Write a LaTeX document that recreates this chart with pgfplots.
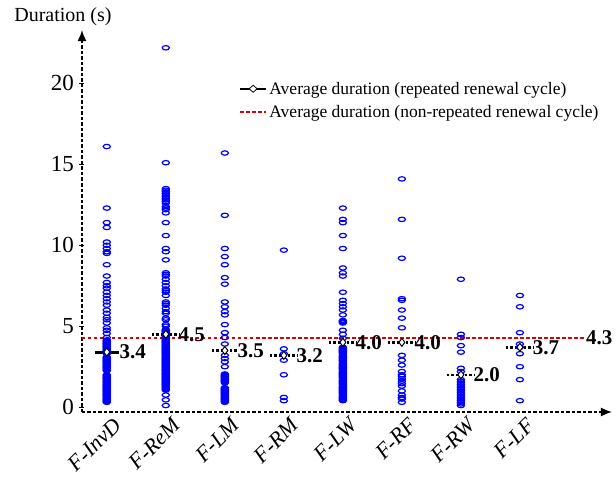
\documentclass[border=0pt]{standalone}
\usepackage{fontspec}
\setmainfont{Liberation Serif}
\usepackage{pgfplots}
\pgfplotsset{compat=1.18}
\usetikzlibrary{arrows.meta}
\definecolor{avgred}{RGB}{220,0,0}
\pgfdeclareplotmark{ell}{\pgfpathellipse{\pgfpointorigin}{\pgfqpoint{3.6pt}{0pt}}{\pgfqpoint{0pt}{2.2pt}}\pgfusepathqstroke}
\begin{document}
\begin{tikzpicture}
\useasboundingbox (-82pt,-76pt) rectangle (534pt,412pt);
\begin{axis}[
  at={(0pt,0pt)}, anchor=south west,
  scale only axis, width=530pt, height=382pt,
  xmin=-0.42, xmax=8.56, ymin=-0.3, ymax=23.3,
  axis lines=left, clip=false,
  axis line style={black, line width=1.6pt, dash pattern=on 3.5pt off 2pt, -{Latex[length=11pt,width=9pt]}},
  xtick={0,1,2,3,4,5,6,7},
  xticklabels={F-InvD,F-ReM,F-LM,F-RM,F-LW,F-RF,F-RW,F-LF},
  ytick={0,5,10,15,20},
  xtick style={draw=none},
  ytick style={black, line width=1pt, solid},
  major tick length=5pt, tick align=center,
  /pgf/number format/assume math mode=true,
  yticklabel style={font=\fontsize{23}{25}\selectfont, xshift=-2pt},
  xticklabel style={rotate=45, anchor=north east, font=\fontsize{22}{24}\selectfont\itshape, xshift=6pt, yshift=-2pt},
  legend style={at={(rel axis cs:0.29,0.875)}, anchor=north west, draw=none, fill=none,
    font=\fontsize{17.5}{19}\selectfont, row sep=6pt},
  legend cell align=left,
]
\node[anchor=south, font=\fontsize{20}{22}\selectfont] at (rel axis cs:0,1) [xshift=-19pt, yshift=1pt] {Duration (s)};

\addlegendimage{legend image code/.code={
  \draw[black, line width=2.5pt] (0pt,0pt) -- (26pt,0pt);
  \draw[black, fill=white, line width=0.8pt] (9pt,0pt) -- (13pt,3.5pt) -- (17pt,0pt) -- (13pt,-3.5pt) -- cycle;}}
\addlegendentry{Average duration (repeated renewal cycle)}
\addlegendimage{legend image code/.code={
  \draw[draw=avgred, line width=2pt, dash pattern=on 3.5pt off 2.5pt] (0pt,0pt) -- (26pt,0pt);}}
\addlegendentry{Average duration (non-repeated renewal cycle)}

% individual durations
\addplot[only marks, mark=ell, blue, mark options={line width=1.2pt, solid}, forget plot]
table[row sep=\\] {
x y\\
0 16.1\\ 0 12.3\\ 0 11.4\\ 0 11.1\\ 0 10.2\\ 0 10.0\\ 0 9.8\\ 0 9.6\\ 0 9.5\\ 0 8.8\\ 0 8.1\\ 0 7.7\\ 0 7.5\\ 0 7.35\\
0 7.1\\ 0 6.9\\ 0 6.7\\ 0 6.5\\ 0 6.3\\ 0 6.0\\ 0 5.8\\ 0 5.55\\ 0 5.4\\ 0 5.2\\ 0 4.9\\ 0 4.75\\ 0 4.55\\ 0 4.3\\
0 4.15\\ 0 4.1\\ 0 4.05\\ 0 4.0\\ 0 3.95\\ 0 3.9\\ 0 3.85\\ 0 3.8\\ 0 3.75\\ 0 3.7\\ 0 3.65\\ 0 3.6\\ 0 3.55\\ 0 3.5\\
0 3.45\\ 0 3.4\\ 0 3.35\\ 0 3.3\\ 0 3.1\\ 0 3.05\\ 0 3.0\\ 0 2.95\\ 0 2.9\\ 0 2.85\\ 0 2.8\\ 0 2.75\\ 0 2.7\\ 0 2.65\\
0 2.6\\ 0 2.55\\ 0 2.5\\ 0 2.45\\ 0 2.4\\ 0 2.35\\ 0 2.3\\ 0 2.25\\ 0 2.0\\ 0 1.95\\ 0 1.9\\ 0 1.85\\ 0 1.8\\ 0 1.75\\
0 1.7\\ 0 1.65\\ 0 1.6\\ 0 1.55\\ 0 1.5\\ 0 1.45\\ 0 1.4\\ 0 1.35\\ 0 1.3\\ 0 1.25\\ 0 1.2\\ 0 1.15\\ 0 1.1\\ 0 1.05\\
0 1.0\\ 0 0.95\\ 0 0.9\\ 0 0.85\\ 0 0.8\\ 0 0.75\\ 0 0.7\\ 0 0.65\\ 0 0.6\\ 0 0.55\\ 0 0.5\\ 0 0.45\\ 0 0.4\\ 0 0.35\\ 0 0.3\\
1 22.2\\ 1 15.1\\ 1 13.5\\ 1 13.4\\ 1 13.3\\ 1 13.2\\ 1 13.1\\ 1 13.0\\ 1 12.9\\ 1 12.8\\ 1 12.7\\ 1 12.6\\ 1 12.4\\ 1 12.3\\
1 12.2\\ 1 12.0\\ 1 11.4\\ 1 10.6\\ 1 9.8\\ 1 9.6\\ 1 9.1\\ 1 8.3\\ 1 8.2\\ 1 8.1\\ 1 7.9\\ 1 7.7\\ 1 7.5\\ 1 7.3\\
1 7.2\\ 1 7.1\\ 1 6.9\\ 1 6.5\\ 1 6.4\\ 1 6.3\\ 1 6.1\\ 1 5.9\\ 1 5.8\\ 1 5.5\\ 1 5.4\\ 1 5.1\\ 1 5.0\\
1 4.8\\ 1 4.75\\ 1 4.7\\ 1 4.65\\ 1 4.6\\ 1 4.55\\ 1 4.5\\ 1 4.45\\ 1 4.4\\ 1 4.35\\ 1 4.3\\ 1 4.25\\ 1 4.2\\ 1 4.15\\
1 4.1\\ 1 4.05\\ 1 4.0\\ 1 3.95\\ 1 3.9\\ 1 3.85\\ 1 3.8\\ 1 3.75\\ 1 3.7\\ 1 3.65\\ 1 3.6\\ 1 3.55\\ 1 3.5\\ 1 3.45\\
1 3.4\\ 1 3.35\\ 1 3.3\\ 1 3.25\\ 1 3.2\\ 1 3.15\\ 1 3.1\\ 1 3.05\\ 1 3.0\\ 1 2.95\\ 1 2.9\\ 1 2.85\\ 1 2.8\\ 1 2.75\\
1 2.7\\ 1 2.65\\ 1 2.6\\ 1 2.55\\ 1 2.5\\ 1 2.45\\ 1 2.4\\ 1 2.35\\ 1 2.3\\ 1 2.25\\ 1 2.2\\ 1 2.15\\ 1 2.1\\ 1 2.05\\
1 2.0\\ 1 1.95\\ 1 1.9\\ 1 1.85\\ 1 1.8\\ 1 1.75\\ 1 1.7\\ 1 1.65\\ 1 1.6\\ 1 1.55\\ 1 1.5\\ 1 1.45\\ 1 1.4\\ 1 1.35\\
1 1.3\\ 1 1.25\\ 1 1.2\\ 1 1.15\\ 1 1.1\\ 1 1.05\\ 1 0.75\\ 1 0.45\\ 1 0.1\\
2 15.7\\ 2 11.85\\ 2 9.8\\ 2 9.3\\ 2 8.8\\ 2 8.0\\ 2 7.6\\ 2 6.5\\ 2 6.2\\ 2 5.9\\ 2 5.7\\ 2 5.1\\ 2 4.6\\ 2 4.3\\
2 3.9\\ 2 3.2\\ 2 3.0\\ 2 2.8\\ 2 2.5\\ 2 2.05\\ 2 2.0\\ 2 1.95\\ 2 1.9\\ 2 1.85\\ 2 1.8\\ 2 1.75\\ 2 1.7\\ 2 1.65\\
2 1.6\\ 2 1.55\\ 2 1.5\\ 2 1.2\\ 2 1.15\\ 2 1.1\\ 2 1.05\\ 2 1.0\\ 2 0.95\\ 2 0.9\\ 2 0.85\\ 2 0.8\\ 2 0.75\\ 2 0.7\\
2 0.65\\ 2 0.6\\ 2 0.55\\ 2 0.5\\ 2 0.45\\ 2 0.4\\ 2 0.35\\ 2 0.3\\
3 9.7\\ 3 3.6\\ 3 3.3\\ 3 2.9\\ 3 2.0\\ 3 0.6\\ 3 0.4\\
4 12.3\\ 4 11.6\\ 4 11.4\\ 4 10.6\\ 4 9.8\\ 4 8.6\\ 4 8.3\\ 4 8.1\\ 4 7.1\\ 4 6.6\\ 4 6.4\\ 4 6.2\\ 4 6.0\\ 4 5.7\\
4 5.35\\ 4 5.3\\ 4 5.25\\ 4 5.2\\ 4 4.75\\ 4 4.5\\ 4 4.25\\ 4 3.7\\ 4 3.65\\ 4 3.6\\ 4 3.55\\ 4 3.5\\ 4 3.45\\ 4 3.4\\
4 3.35\\ 4 3.3\\ 4 3.2\\ 4 3.15\\ 4 3.1\\ 4 3.05\\ 4 3.0\\ 4 2.95\\ 4 2.9\\ 4 2.85\\ 4 2.8\\ 4 2.7\\ 4 2.65\\ 4 2.6\\
4 2.55\\ 4 2.5\\ 4 2.45\\ 4 2.4\\ 4 2.35\\ 4 2.3\\ 4 2.2\\ 4 2.15\\ 4 2.1\\ 4 2.05\\ 4 2.0\\ 4 1.95\\ 4 1.9\\ 4 1.85\\
4 1.8\\ 4 1.7\\ 4 1.65\\ 4 1.6\\ 4 1.55\\ 4 1.5\\ 4 1.45\\ 4 1.4\\ 4 1.3\\ 4 1.25\\ 4 1.2\\ 4 1.15\\ 4 1.1\\ 4 1.05\\
4 1.0\\ 4 0.95\\ 4 0.9\\ 4 0.85\\ 4 0.8\\ 4 0.7\\ 4 0.65\\ 4 0.6\\ 4 0.55\\ 4 0.5\\ 4 0.45\\ 4 0.4\\
5 14.1\\ 5 11.6\\ 5 9.2\\ 5 6.7\\ 5 6.6\\ 5 6.0\\ 5 5.5\\ 5 4.9\\ 5 3.2\\ 5 2.9\\ 5 2.6\\ 5 2.2\\ 5 2.0\\ 5 1.9\\
5 1.75\\ 5 1.6\\ 5 1.45\\ 5 1.3\\ 5 1.0\\ 5 0.75\\ 5 0.6\\ 5 0.5\\ 5 0.3\\
6 7.9\\ 6 4.5\\ 6 4.3\\ 6 3.8\\ 6 3.4\\ 6 2.4\\ 6 2.2\\ 6 1.7\\ 6 1.6\\ 6 1.5\\ 6 1.4\\ 6 1.3\\ 6 1.2\\ 6 1.1\\
6 1.0\\ 6 0.9\\ 6 0.8\\ 6 0.7\\ 6 0.6\\ 6 0.5\\ 6 0.4\\ 6 0.3\\ 6 0.2\\ 6 0.1\\
7 6.9\\ 7 6.2\\ 7 4.6\\ 7 3.9\\ 7 3.7\\ 7 3.3\\ 7 2.5\\ 7 1.7\\ 7 0.4\\
};

% non-repeated average
\addplot[draw=avgred, line width=2pt, dash pattern=on 3.5pt off 2.5pt, forget plot] coordinates {(-0.42,4.3) (8.1,4.3)};
\node[anchor=west, inner sep=1pt, font=\fontsize{21}{24}\selectfont\bfseries] at (axis cs:8.1,4.3) {4.3};

% repeated averages
\addplot[black, line width=3pt, forget plot] coordinates {(-0.2,3.4) (0.2,3.4)};
\addplot[black, line width=2.5pt, dash pattern=on 2.5pt off 2pt, forget plot, unbounded coords=jump] coordinates {
(0.76,4.5) (1.24,4.5) (1.5,nan)
(1.78,3.5) (2.22,3.5) (2.5,nan)
(2.76,3.2) (3.24,3.2) (3.5,nan)
(3.76,4.0) (4.24,4.0) (4.5,nan)
(4.76,4.0) (5.24,4.0) (5.5,nan)
(5.76,2.0) (6.24,2.0) (6.5,nan)
(6.76,3.7) (7.24,3.7)
};
\addplot[only marks, mark=diamond*, mark size=4pt, mark options={fill=white, draw=black, line width=1pt, solid}, forget plot,
  nodes near coords, point meta=explicit symbolic,
  nodes near coords style={anchor=west, xshift=9pt, font=\fontsize{21}{24}\selectfont\bfseries, text=black}]
table[meta=l, row sep=\\] {
x y l\\
0 3.4 3.4\\ 1 4.5 4.5\\ 2 3.5 3.5\\ 3 3.2 3.2\\ 4 4.0 4.0\\ 5 4.0 4.0\\ 6 2.0 2.0\\ 7 3.7 3.7\\
};
\end{axis}
\end{tikzpicture}
\end{document}
